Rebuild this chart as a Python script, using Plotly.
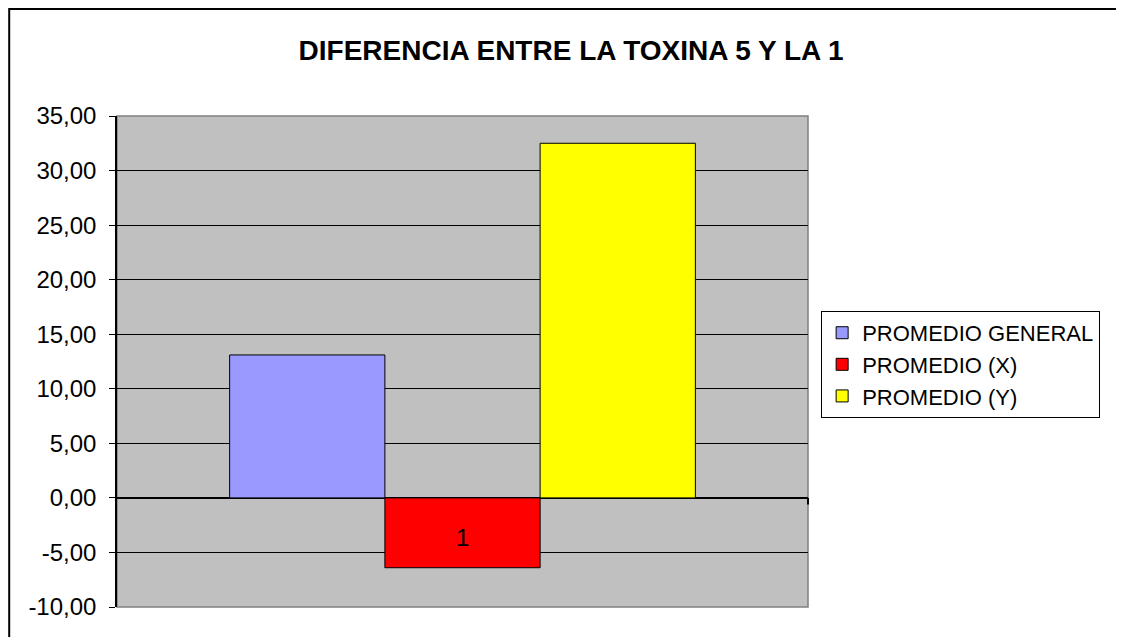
import plotly.graph_objects as go

# Data
categories = ["1"]
series_names = ["PROMEDIO GENERAL", "PROMEDIO (X)", "PROMEDIO (Y)"]
series_values = [[13.1], [-6.4], [32.5]]
series_colors = ["#9999FF", "#FF0000", "#FFFF00"]

y_tickvals = [-10, -5, 0, 5, 10, 15, 20, 25, 30, 35]
y_ticktext = ["-10,00", "-5,00", "0,00", "5,00", "10,00", "15,00",
              "20,00", "25,00", "30,00", "35,00"]

FONT = "Liberation Sans, Arial, sans-serif"

fig = go.Figure()
for name, vals, col in zip(series_names, series_values, series_colors):
    fig.add_trace(go.Bar(
        x=categories, y=vals, name=name,
        marker=dict(color=col, line=dict(color="black", width=1)),
    ))

fig.update_layout(
    width=1124, height=637,
    barmode="group", bargap=0.326, bargroupgap=0,
    paper_bgcolor="white",
    plot_bgcolor="#C0C0C0",
    margin=dict(l=109, r=324, t=108, b=38),
    font=dict(family=FONT, size=24, color="black"),
    title=dict(
        text="<b>DIFERENCIA ENTRE LA TOXINA 5 Y LA 1</b>",
        x=0.501, xref="container", y=0.934, yanchor="middle",
        font=dict(family=FONT, size=28, color="black"),
    ),
    legend=dict(
        x=1.019, y=0.603, xanchor="left", yanchor="top",
        bordercolor="black", borderwidth=1, bgcolor="white",
        font=dict(family=FONT, size=22),
        tracegroupgap=0,
    ),
    showlegend=True,
)

fig.update_xaxes(type="category", range=[-0.5, 0.5], showticklabels=False,
                 showgrid=False, zeroline=False, showline=False, ticks="")
fig.update_yaxes(range=[-10, 35], tickvals=y_tickvals, ticktext=y_ticktext,
                 showgrid=True, gridcolor="black", gridwidth=1,
                 zeroline=True, zerolinecolor="black", zerolinewidth=1.5,
                 showline=True, linecolor="black", linewidth=1.5,
                 ticks="outside", ticklen=6, tickcolor="black",
                 ticklabelstandoff=8,
                 tickfont=dict(family=FONT, size=24))

# category label sits just under the zero line, like the original
# (x=0 is the index of the single category)
fig.add_annotation(x=0, y=0, xref="x", yref="y", text=categories[0],
                   showarrow=False, yanchor="middle", yshift=-40,
                   font=dict(family=FONT, size=24, color="black"))

# small tick at the right end of the category axis
fig.add_shape(type="line", xref="paper", yref="y", x0=1, x1=1, y0=0, y1=-0.6,
              line=dict(color="black", width=2), layer="above")

# plot area frame (gray) and outer chart border (black)
fig.add_shape(type="rect", xref="paper", yref="paper", x0=0, x1=1, y0=0, y1=1,
              line=dict(color="#808080", width=1.5), layer="below")
fig.add_shape(type="rect", xref="paper", yref="paper",
              x0=-0.156, x1=1.450, y0=-0.2, y1=1.218,
              line=dict(color="black", width=2), layer="above")

fig.write_html("out.html")
